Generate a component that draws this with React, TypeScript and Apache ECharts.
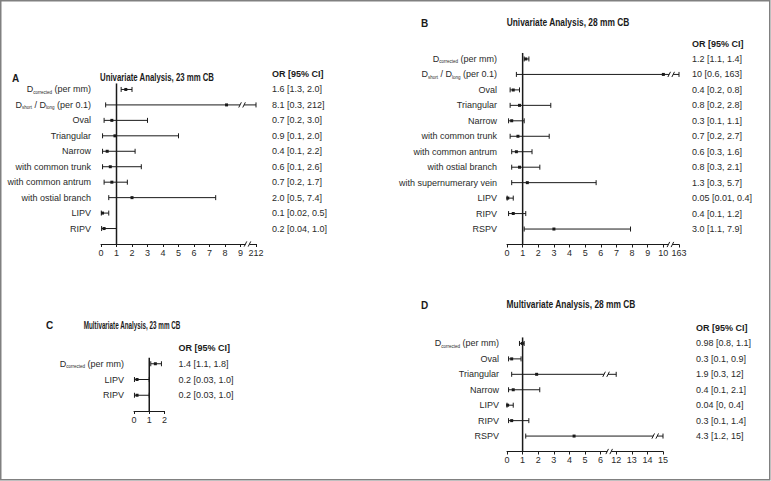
import { useEffect, useRef } from 'react';
import * as echarts from 'echarts';

const INK = '#1a1a1a';
const TXT = '#2a2a2a';
const FONT = '"Liberation Sans", Arial, sans-serif';
const FS = 9;

// ---------- Panel A: Univariate Analysis, 23 mm CB
const aRows = ['D_{corrected} (per mm)', 'D_{short} / D_{long} (per 0.1)', 'Oval', 'Triangular', 'Narrow', 'with common trunk', 'with common antrum', 'with ostial branch', 'LIPV', 'RIPV'];
const aOR = [1.6, 8.1, 0.7, 0.9, 0.4, 0.6, 0.7, 2.0, 0.1, 0.2];
const aLo = [1.3, 0.3, 0.2, 0.1, 0.1, 0.1, 0.2, 0.5, 0.02, 0.04];
const aHi = [2.0, 212, 3.0, 5.0, 2.2, 2.6, 1.7, 7.4, 0.5, 1.0];
const aText = ['1.6 [1.3, 2.0]', '8.1 [0.3, 212]', '0.7 [0.2, 3.0]', '0.9 [0.1, 2.0]', '0.4 [0.1, 2.2]', '0.6 [0.1, 2.6]', '0.7 [0.2, 1.7]', '2.0 [0.5, 7.4]', '0.1 [0.02, 0.5]', '0.2 [0.04, 1.0]'];
const aTicks = [0, 1, 2, 3, 4, 5, 6, 7, 8, 9, 212];

// ---------- Panel B: Univariate Analysis, 28 mm CB
const bRows = ['D_{corrected} (per mm)', 'D_{short} / D_{long} (per 0.1)', 'Oval', 'Triangular', 'Narrow', 'with common trunk', 'with common antrum', 'with ostial branch', 'with supernumerary vein', 'LIPV', 'RIPV', 'RSPV'];
const bOR = [1.2, 10, 0.4, 0.8, 0.3, 0.7, 0.6, 0.8, 1.3, 0.05, 0.4, 3.0];
const bLo = [1.1, 0.6, 0.2, 0.2, 0.1, 0.2, 0.3, 0.3, 0.3, 0.01, 0.1, 1.1];
const bHi = [1.4, 163, 0.8, 2.8, 1.1, 2.7, 1.6, 2.1, 5.7, 0.4, 1.2, 7.9];
const bText = ['1.2 [1.1, 1.4]', '10 [0.6, 163]', '0.4 [0.2, 0.8]', '0.8 [0.2, 2.8]', '0.3 [0.1, 1.1]', '0.7 [0.2, 2.7]', '0.6 [0.3, 1.6]', '0.8 [0.3, 2.1]', '1.3 [0.3, 5.7]', '0.05 [0.01, 0.4]', '0.4 [0.1, 1.2]', '3.0 [1.1, 7.9]'];
const bTicks = [0, 1, 2, 3, 4, 5, 6, 7, 8, 9, 10, 163];

// ---------- Panel C: Multivariate Analysis, 23 mm CB
const cRows = ['D_{corrected} (per mm)', 'LIPV', 'RIPV'];
const cOR = [1.4, 0.2, 0.2];
const cLo = [1.1, 0.03, 0.03];
const cHi = [1.8, 1.0, 1.0];
const cText = ['1.4 [1.1, 1.8]', '0.2 [0.03, 1.0]', '0.2 [0.03, 1.0]'];
const cTicks = [0, 1, 2];

// ---------- Panel D: Multivariate Analysis, 28 mm CB
const dRows = ['D_{corrected} (per mm)', 'Oval', 'Triangular', 'Narrow', 'LIPV', 'RIPV', 'RSPV'];
const dOR = [0.98, 0.3, 1.9, 0.4, 0.04, 0.3, 4.3];
const dLo = [0.8, 0.1, 0.3, 0.1, 0, 0.1, 1.2];
const dHi = [1.1, 0.9, 12, 2.1, 0.4, 1.4, 15];
const dText = ['0.98 [0.8, 1.1]', '0.3 [0.1, 0.9]', '1.9 [0.3, 12]', '0.4 [0.1, 2.1]', '0.04 [0, 0.4]', '0.3 [0.1, 1.4]', '4.3 [1.2, 15]'];
const dTicks = [0, 1, 2, 3, 4, 5, 6, 12, 13, 14, 15];

type Panel = {
  letter: string;
  title: string;
  rows: string[];
  or: number[];
  lo: number[];
  hi: number[];
  text: string[];
  ticks: number[];
  grid: { left: number; top: number; width: number; height: number };
  labelMargin: number;
  textMargin: number;
  axisBreak: number | null;
  cuts: Record<number, number>;
  letterPos: [number, number];
  titlePos: [number, number];
  titleSize: number;
  titleScale: number;
};

const panels: Panel[] = [
  {
    letter: 'A', title: 'Univariate Analysis, 23 mm CB',
    rows: aRows, or: aOR, lo: aLo, hi: aHi, text: aText, ticks: aTicks,
    grid: { left: 101, top: 74, width: 155, height: 170 },
    labelMargin: 10, textMargin: 16, axisBreak: 9.45, cuts: { 1: 9.1 },
    letterPos: [12, 78], titlePos: [157, 78], titleSize: 10, titleScale: 0.78,
  },
  {
    letter: 'B', title: 'Univariate Analysis, 28 mm CB',
    rows: bRows, or: bOR, lo: bLo, hi: bHi, text: bText, ticks: bTicks,
    grid: { left: 507, top: 43.5, width: 172, height: 201 },
    labelMargin: 10, textMargin: 13, axisBreak: 10.45, cuts: { 1: 10.5 },
    letterPos: [421, 23], titlePos: [568, 23], titleSize: 10, titleScale: 0.84,
  },
  {
    letter: 'C', title: 'Multivariate Analysis, 23 mm CB',
    rows: cRows, or: cOR, lo: cLo, hi: cHi, text: cText, ticks: cTicks,
    grid: { left: 134, top: 348, width: 30.5, height: 63 },
    labelMargin: 10, textMargin: 14, axisBreak: null, cuts: {},
    letterPos: [46, 325], titlePos: [132, 325], titleSize: 10, titleScale: 0.63,
  },
  {
    letter: 'D', title: 'Multivariate Analysis, 28 mm CB',
    rows: dRows, or: dOR, lo: dLo, hi: dHi, text: dText, ticks: dTicks,
    grid: { left: 507, top: 328, width: 156, height: 123.5 },
    labelMargin: 8, textMargin: 33, axisBreak: 6.55, cuts: { 2: 6.35, 6: 9.5 },
    letterPos: [421, 305], titlePos: [571, 305], titleSize: 10, titleScale: 0.84,
  },
];

// piecewise-linear scale through the tick values (handles the broken axes)
function toDisp(ticks: number[], v: number): number {
  if (v <= ticks[0]) return 0;
  for (let i = 0; i < ticks.length - 1; i++) {
    if (v <= ticks[i + 1]) return i + (v - ticks[i]) / (ticks[i + 1] - ticks[i]);
  }
  return ticks.length - 1;
}

const toRich = (s: string) =>
  s ? '{n|' + s.replace(/_\{([^}]*)\}/g, (_m, sub) => `}{s|${sub}}{n|`) + '}' : '';

const slash = (x: number, y: number) => ({
  type: 'line',
  shape: { x1: x - 1.3, y1: y + 2.6, x2: x + 1.3, y2: y - 2.6 },
  style: { stroke: INK, lineWidth: 1 },
});

function forestRender(_params: any, api: any) {
  const lo = api.value(0);
  const hi = api.value(1);
  const or = api.value(2);
  const yi = api.value(3);
  const cut = api.value(4);
  const [xl, y] = api.coord([lo, yi]);
  const xh = api.coord([hi, yi])[0];
  const xo = api.coord([or, yi])[0];
  const ls = { stroke: INK, lineWidth: 1 };
  const children: any[] = [];
  if (cut > 0) {
    const xc = api.coord([cut, yi])[0];
    children.push({ type: 'line', shape: { x1: xl, y1: y, x2: xc - 2, y2: y }, style: ls });
    children.push({ type: 'line', shape: { x1: xc + 2, y1: y, x2: xh, y2: y }, style: ls });
    children.push(slash(xc - 2, y));
    children.push(slash(xc + 2, y));
  } else {
    children.push({ type: 'line', shape: { x1: xl, y1: y, x2: xh, y2: y }, style: ls });
  }
  children.push({ type: 'line', shape: { x1: xl, y1: y - 2.5, x2: xl, y2: y + 2.5 }, style: ls });
  children.push({ type: 'line', shape: { x1: xh, y1: y - 2.5, x2: xh, y2: y + 2.5 }, style: ls });
  children.push({ type: 'rect', shape: { x: xo - 1.5, y: y - 1.5, width: 3, height: 3 }, style: { fill: INK } });
  return { type: 'group', children };
}

function refRender(_params: any, api: any) {
  const [x, yTop] = api.coord([api.value(0), api.value(1)]);
  const yBot = api.coord([api.value(0), api.value(2)])[1];
  return {
    type: 'line',
    shape: { x1: x, y1: yTop - 6, x2: x, y2: yBot },
    style: { stroke: INK, lineWidth: 1.5 },
  };
}

function breakRender(_params: any, api: any) {
  const [x, y] = api.coord([api.value(0), api.value(1)]);
  return {
    type: 'group',
    children: [
      { type: 'rect', shape: { x: x - 2, y: y - 2, width: 4, height: 4 }, style: { fill: '#fff' } },
      slash(x - 2, y),
      slash(x + 2, y),
    ],
  };
}

function buildOption() {
  const grid: any[] = [];
  const xAxis: any[] = [];
  const yAxis: any[] = [];
  const series: any[] = [];
  const graphic: any[] = [
    {
      type: 'rect',
      shape: { x: 0.75, y: 0.75, width: 769, height: 479 },
      style: { fill: 'none', stroke: '#808080', lineWidth: 1.5 },
      silent: true,
    },
  ];

  panels.forEach((p, k) => {
    const n = p.rows.length;
    grid.push({ ...p.grid });
    xAxis.push({
      gridIndex: k,
      type: 'value',
      min: 0,
      max: p.ticks.length - 1,
      interval: 1,
      splitLine: { show: false },
      axisLine: { show: true, lineStyle: { color: INK, width: 1 } },
      axisTick: { show: true, length: 3, lineStyle: { color: INK, width: 1 } },
      axisLabel: {
        margin: 4,
        fontSize: FS,
        fontFamily: FONT,
        color: TXT,
        formatter: (v: number) => String(p.ticks[Math.round(v)] ?? ''),
      },
    });
    yAxis.push({
      gridIndex: k,
      type: 'category',
      inverse: true,
      boundaryGap: false,
      position: 'left',
      data: ['', ...p.rows, ''],
      axisLine: { show: false },
      axisTick: { show: false },
      splitLine: { show: false },
      axisLabel: {
        interval: 0,
        margin: p.labelMargin,
        formatter: (v: string) => toRich(v),
        rich: {
          n: { fontSize: FS, fontFamily: FONT, color: TXT, lineHeight: 11 },
          s: { fontSize: 4.5, fontFamily: FONT, color: TXT, verticalAlign: 'bottom' },
        },
      },
    });
    yAxis.push({
      gridIndex: k,
      type: 'category',
      inverse: true,
      boundaryGap: false,
      position: 'right',
      data: ['OR [95% CI]', ...p.text, ''],
      axisLine: { show: false },
      axisTick: { show: false },
      splitLine: { show: false },
      axisLabel: {
        interval: 0,
        margin: p.textMargin,
        align: 'left',
        formatter: (v: string, i: number) => (v ? (i === 0 ? `{h|${v}}` : `{v|${v}}`) : ''),
        rich: {
          h: { fontSize: FS, fontWeight: 'bold', fontFamily: FONT, color: INK },
          v: { fontSize: FS, fontFamily: FONT, color: TXT },
        },
      },
    });
    const yIdx = 2 * k;
    series.push({
      type: 'custom',
      xAxisIndex: k,
      yAxisIndex: yIdx,
      clip: false,
      z: 5,
      encode: { x: [0, 1, 2], y: 3 },
      data: p.rows.map((_r, i) => [
        toDisp(p.ticks, p.lo[i]),
        toDisp(p.ticks, p.hi[i]),
        toDisp(p.ticks, p.or[i]),
        i + 1,
        p.cuts[i] ?? -1,
      ]),
      renderItem: forestRender,
    });
    series.push({
      type: 'custom',
      xAxisIndex: k,
      yAxisIndex: yIdx,
      clip: false,
      z: 4,
      encode: { x: 0, y: 1 },
      data: [[toDisp(p.ticks, 1), 1, n + 1]],
      renderItem: refRender,
    });
    if (p.axisBreak != null) {
      series.push({
        type: 'custom',
        xAxisIndex: k,
        yAxisIndex: yIdx,
        clip: false,
        z: 6,
        encode: { x: 0, y: 1 },
        data: [[p.axisBreak, n + 1]],
        renderItem: breakRender,
      });
    }
    graphic.push({
      type: 'text',
      x: p.letterPos[0],
      y: p.letterPos[1],
      style: { text: p.letter, fontSize: 10, fontWeight: 'bold', fontFamily: FONT, fill: INK, align: 'left', verticalAlign: 'middle' },
    });
    graphic.push({
      type: 'text',
      x: p.titlePos[0],
      y: p.titlePos[1],
      scaleX: p.titleScale,
      style: { text: p.title, fontSize: p.titleSize, fontWeight: 'bold', fontFamily: FONT, fill: INK, align: 'center', verticalAlign: 'middle' },
    });
  });

  return {
    animation: false,
    backgroundColor: '#ffffff',
    textStyle: { fontFamily: FONT },
    grid,
    xAxis,
    yAxis,
    series,
    graphic,
  };
}

export default function App() {
  const ref = useRef<HTMLDivElement>(null);
  useEffect(() => {
    if (!ref.current) return;
    const chart = echarts.init(ref.current, undefined, { renderer: 'svg' });
    chart.setOption(buildOption() as any);
    return () => chart.dispose();
  }, []);
  return (
    <div
      ref={ref}
      style={{ position: 'absolute', left: 0, top: 0, width: 771, height: 481, background: '#fff' }}
    />
  );
}
